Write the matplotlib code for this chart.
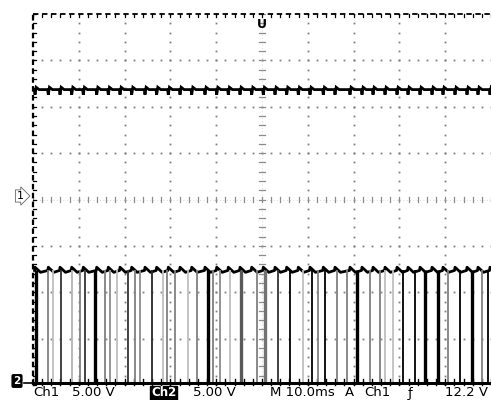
import matplotlib
matplotlib.use("Agg")
import matplotlib.pyplot as plt
import numpy as np

time_per_div_ms = 10.0
ch1_volts_per_div = 5.0
ch2_volts_per_div = 5.0
ch1_ground_div = 0.0
ch2_ground_div = -3.95

# ripple cusp times (ms, trigger at 0)
cusp_ms = [-49.56, -46.66, -44.10, -41.55, -39.02, -36.09, -33.56, -31.00,
           -28.45, -25.55, -23.00, -20.46, -17.90, -15.35, -12.45, -9.89,
           -7.36, -4.80, -2.25, 0.28, 2.84, 5.39, 7.93, 10.48, 13.38, 15.94,
           19.21, 21.83, 24.24, 26.86, 29.48, 31.88, 34.50, 37.12, 39.52,
           42.14, 44.76, 47.16, 49.78]
ch1_high_v = 11.85
ch1_peak_v = 12.1
ch1_cusp_v = 11.3
ch2_high_v = 12.1
ch2_peak_v = 12.45
ch2_low_v = 0.0

# ch2 switching edges (ms), their intensity (0 = black) and weight
edge_ms = [-49.34, -46.72, -45.63, -43.89, -41.48, -39.74, -38.65, -36.46,
           -34.28, -33.19, -31.66, -29.26, -27.73, -26.64, -24.02, -21.62,
           -20.74, -19.00, -16.16, -14.19, -11.79, -10.70, -9.17, -6.99,
           -4.59, -1.09, 0.66, 3.49, 6.11, 8.95, 10.92, 12.23, 13.76, 16.38,
           18.56, 20.74, 23.58, 25.76, 26.86, 28.60, 30.79, 33.41, 35.59,
           38.43, 40.61, 43.23, 45.85, 48.03, 49.34]
edge_gray = [0.0, 0.5, 0.75, 0.2, 0.7, 0.5, 0.2, 0.0,
             0.5, 0.55, 0.75, 0.2, 0.5, 0.55, 0.15, 0.75,
             0.5, 0.5, 0.75, 0.5, 0.0, 0.5, 0.55, 0.75,
             0.35, 0.5, 0.45, 0.2, 0.0, 0.75, 0.0, 0.5, 0.0, 0.5,
             0.5, 0.0, 0.5, 0.5, 0.75, 0.75, 0.0, 0.0, 0.0,
             0.0, 0.5, 0.0, 0.0, 0.5, 0.0]
edge_thick = [1, 0, 0, 0, 0, 0, 0, 1,
              0, 0, 0, 0, 0, 0, 0, 0,
              0, 0, 0, 0, 1, 0, 0, 0,
              1, 0, 1, 0, 0, 0, 0, 0, 0, 0,
              0, 1, 0, 0, 0, 0, 0, 0, 1,
              1, 0, 0, 1, 0, 0]

readout = ["Ch1", "5.00 V", "Ch2", "5.00 V", "M 10.0ms", "A", "Ch1", "\u0192", "12.2 V"]

# ---------------- figure ----------------
W, H = 491, 400
fig = plt.figure(figsize=(W / 100, H / 100), dpi=100)
fig.patch.set_facecolor("white")
ax = fig.add_axes([33 / W, 15 / H, 458 / W, 371 / H])
ax.set_xlim(-5, 5)
ax.set_ylim(-4, 4)
ax.axis("off")

# graticule dots
minor = np.round(np.arange(-5, 5.001, 0.2), 3)
minor_y = np.round(np.arange(-4, 4.001, 0.2), 3)
for gx in range(-4, 5):
    if gx == 0:
        continue
    ax.plot(np.full(len(minor_y), gx), minor_y, ls="none", marker="s",
            ms=1.3, mfc="0.5", mec="none")
for gy in range(-3, 4):
    if gy == 0:
        continue
    ax.plot(minor, np.full(len(minor), gy), ls="none", marker="s",
            ms=1.3, mfc="0.5", mec="none")

# centre crosshair with ticks
ax.plot([0, 0], [-4, 4], color="0.8", lw=0.6, ls=(0, (1, 3)))
ax.plot([-5, 5], [0, 0], color="0.8", lw=0.6, ls=(0, (1, 3)))
for y in minor_y:
    ax.plot([-0.06, 0.06], [y, y], color="0.55", lw=0.9)
for x in minor:
    ax.plot([x, x], [-0.06, 0.06], color="0.55", lw=0.9)

# frame: left and top dashed borders with ticks, bottom solid
ax.plot([-5, -5], [-4, 4], color="black", lw=1.6, ls=(0, (2.5, 1.5)), clip_on=False)
ax.plot([-5, 5], [4, 4], color="black", lw=1.3, ls=(0, (3, 2)), clip_on=False)
for y in minor_y:
    ax.plot([-5, -4.93], [y, y], color="black", lw=0.9, clip_on=False)
for x in minor:
    ax.plot([x, x], [4, 3.93], color="black", lw=0.9, clip_on=False)
    ax.plot([x, x], [-4, -3.88], color="black", lw=1.0, clip_on=False)

# ---------------- channel 1 ripple trace ----------------
t1, v1 = [], []
for i, c in enumerate(cusp_ms):
    t1 += [c - 0.15, c, c + 0.25, c + 0.9]
    v1 += [ch1_high_v, ch1_cusp_v, ch1_peak_v, ch1_high_v]
t1 = np.array(t1) / time_per_div_ms
v1 = np.array(v1) / ch1_volts_per_div + ch1_ground_div
ax.plot(t1, v1, color="black", lw=2.0, solid_joinstyle="miter")

# ---------------- channel 2 switching trace ----------------
to_div2 = lambda v: v / ch2_volts_per_div + ch2_ground_div
t2, v2 = [], []
for c in cusp_ms:
    t2 += [c - 0.1, c, c + 1.2]
    v2 += [ch2_high_v, ch2_peak_v, ch2_high_v - 0.2]
ax.plot(np.array(t2) / time_per_div_ms, to_div2(np.array(v2)),
        color="black", lw=2.0)
ax.vlines(np.array(edge_ms) / time_per_div_ms, to_div2(ch2_low_v), to_div2(ch2_high_v),
          colors=[str(g) for g in edge_gray],
          linewidths=[2.4 if k else 1.3 for k in edge_thick])
ax.plot([-5, 5], [to_div2(ch2_low_v)] * 2, color="black", lw=2.2, clip_on=False)

# ---------------- markers ----------------
fig.text(262 / W, 1 - 25 / H, "U", ha="center", va="center", fontsize=9,
         fontweight="bold", color="black")
fig.text(20 / W, 1 - 196 / H, "1", ha="center", va="center", fontsize=8,
         color="black",
         bbox=dict(boxstyle="rarrow,pad=0.1", fc="white", ec="0.4", lw=0.6))
fig.text(17 / W, 1 - 381 / H, "2", ha="center", va="center", fontsize=7.5,
         fontweight="bold", color="white",
         bbox=dict(boxstyle="round,pad=0.12", fc="black", ec="black"))
fig.lines.append(plt.Line2D([24 / W, 33 / W], [1 - 383 / H] * 2,
                            transform=fig.transFigure, color="black", lw=1.2))

# ---------------- readout ----------------
xs = [33, 72, 151, 193, 270, 345, 364, 408, 445]
ty = 1 - 393 / H
for x, s in zip(xs, readout):
    if s == "Ch2" and x == 151:
        fig.text(x / W, ty, s, ha="left", va="center", fontsize=8.5,
                 fontweight="bold", color="white",
                 bbox=dict(boxstyle="square,pad=0.08", fc="black", ec="black"))
    else:
        fig.text(x / W, ty, s, ha="left", va="center", fontsize=9.5, color="black")

fig.savefig("out.png", dpi=100, facecolor="white")
